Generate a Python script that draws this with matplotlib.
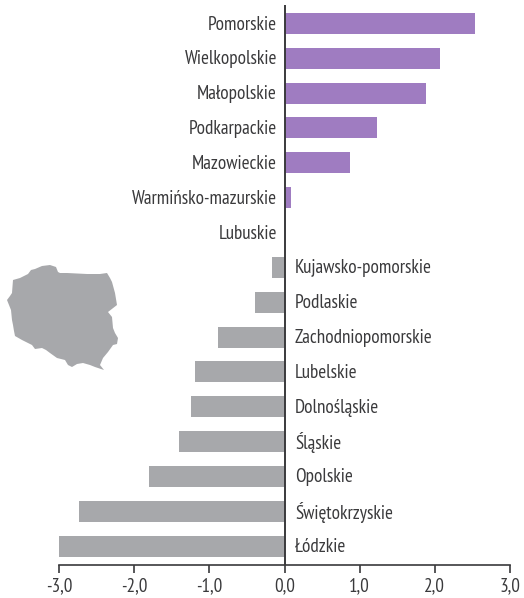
import matplotlib
matplotlib.use("Agg")
import matplotlib.pyplot as plt
from matplotlib.patches import Polygon
from matplotlib import font_manager as fm

names = {f.name for f in fm.fontManager.ttflist}
plt.rcParams['font.family'] = [n for n in ['PT Sans Narrow', 'Liberation Sans', 'DejaVu Sans'] if n in names]

regions = ["Pomorskie", "Wielkopolskie", "Małopolskie", "Podkarpackie", "Mazowieckie",
           "Warmińsko-mazurskie", "Lubuskie", "Kujawsko-pomorskie", "Podlaskie",
           "Zachodniopomorskie", "Lubelskie", "Dolnośląskie", "Śląskie", "Opolskie",
           "Świętokrzyskie", "Łódzkie"]
values = [2.53, 2.07, 1.88, 1.23, 0.87, 0.09, 0.0, -0.17, -0.39, -0.89, -1.19, -1.25,
          -1.40, -1.80, -2.74, -3.0]
ticks = [-3, -2, -1, 0, 1, 2, 3]
tick_labels = ["-3,0", "-2,0", "-1,0", "0,0", "1,0", "2,0", "3,0"]
POS = "#9f7cc1"
NEG = "#a7a8ab"
DARK = "#3a3a3c"

# decorative map outline, figure pixels
map_x = [7, 10, 12, 13, 20, 28, 31, 35, 42, 50, 56, 58, 60, 67, 87, 100, 107, 110, 112, 115, 117, 108, 112, 113, 115, 118, 117, 113, 108, 103, 100, 104, 95, 90, 83, 77, 72, 68, 65, 57, 50, 46, 42, 35, 32, 28, 22, 15, 14, 13, 12, 11, 9]
map_y = [300, 296, 293, 280, 278, 274, 270, 269, 266, 265, 267, 272, 273, 273, 274, 274, 273, 278, 282, 293, 305, 312, 317, 328, 333, 338, 344, 345, 352, 358, 365, 370, 367, 365, 363, 364, 367, 365, 360, 358, 353, 350, 348, 349, 345, 343, 340, 336, 331, 325, 320, 310, 305]

W, H = 524, 598
fig = plt.figure(figsize=(W / 100, H / 100), dpi=100)
L, R, T, B = 59, 510, 5, 564.5
ax = fig.add_axes([L / W, 1 - B / H, (R - L) / W, (B - T) / H])
ax.set_xlim(-3, 3)
ypos = list(range(len(regions)))
ax.barh(ypos, values, height=0.603, color=[POS if v > 0 else NEG for v in values], zorder=2)
ax.set_ylim(15.53, -0.53)

for s in ("top", "right", "left"):
    ax.spines[s].set_visible(False)
ax.spines["bottom"].set_color(DARK)
ax.spines["bottom"].set_linewidth(1.2)
ax.axvline(0, color=DARK, lw=1.4, zorder=3)
ax.set_yticks([])
ax.set_xticks(ticks)
ax.set_xticklabels(tick_labels, fontsize=13.8, color=DARK)
ax.tick_params(axis="x", length=6, width=1.2, color=DARK, pad=3)

for y, name, v in zip(ypos, regions, values):
    if v >= 0:
        ax.annotate(name, (0, y), xytext=(-5.5, -0.8), textcoords="offset points",
                    ha="right", va="center", fontsize=13.8, color=DARK)
    else:
        ax.annotate(name, (0, y), xytext=(7.5, -0.8), textcoords="offset points",
                    ha="left", va="center", fontsize=13.8, color=DARK)

fig.add_artist(Polygon([(x / W, 1 - y / H) for x, y in zip(map_x, map_y)], closed=True,
                       facecolor=NEG, edgecolor="none", transform=fig.transFigure))
fig.savefig("out.png", dpi=100)
